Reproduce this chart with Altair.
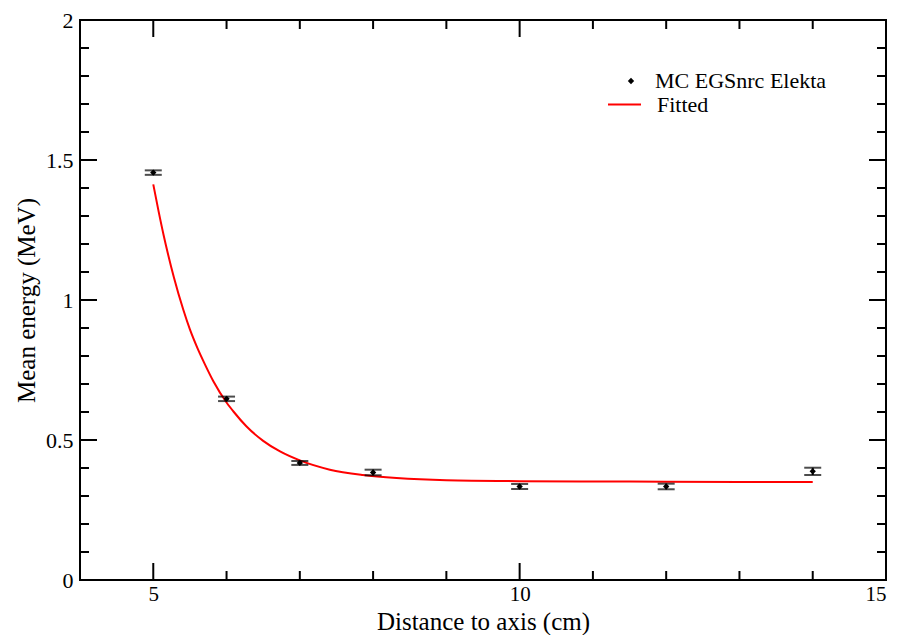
import altair as alt
import pandas as pd

# Monte Carlo data points
mc_x = [5, 6, 7, 8, 10, 12, 14]
mc_y = [1.455, 0.647, 0.418, 0.384, 0.334, 0.334, 0.388]
mc_err = [0.008, 0.008, 0.007, 0.010, 0.009, 0.010, 0.013]

# Fitted curve
fit_x = [5.0, 5.07, 5.14, 5.2, 5.28, 5.41, 5.5, 5.6, 5.7, 5.82, 6.0, 6.1, 6.27, 6.5, 6.73,
         7.0, 7.41, 7.86, 8.32, 9.0, 10.0, 11.0, 12.0, 13.0, 14.0]
fit_y = [1.413, 1.32, 1.233, 1.165, 1.082, 0.965, 0.895, 0.830, 0.773, 0.710, 0.634, 0.600,
         0.549, 0.497, 0.459, 0.427, 0.394, 0.375, 0.364, 0.356, 0.353, 0.352, 0.351, 0.350, 0.350]

# Ticks
x_major = [5, 10]
x_minor = [6, 7, 8, 9, 11, 12, 13, 14]
y_major = [0.5, 1.0, 1.5]
y_minor = [0.1, 0.2, 0.3, 0.4, 0.6, 0.7, 0.8, 0.9, 1.1, 1.2, 1.3, 1.4, 1.6, 1.7, 1.8, 1.9]

W, H = 806, 560
FONT = "Liberation Serif"

mc = pd.DataFrame({"x": mc_x, "y": mc_y,
                   "lo": [v - e for v, e in zip(mc_y, mc_err)],
                   "hi": [v + e for v, e in zip(mc_y, mc_err)],
                   "series": ["MC EGSnrc Elekta"] * len(mc_x)})
fit = pd.DataFrame({"x": fit_x, "y": fit_y, "series": ["Fitted"] * len(fit_x)})

xs = alt.Scale(domain=[4, 15], nice=False, zero=False)
ys = alt.Scale(domain=[0, 2], nice=False)

xaxis = alt.Axis(values=[5, 10, 15], format="~g", ticks=False, domain=False, grid=False,
                 labelFont=FONT, labelFontSize=21, labelColor="black", labelPadding=3,
                 title="Distance to axis (cm)", titleFont=FONT, titleFontSize=25,
                 titleFontWeight="normal", titleColor="black",
                 titleY=49, titleBaseline="alphabetic")
yaxis = alt.Axis(values=[0, 0.5, 1, 1.5, 2], format="~g", ticks=False, domain=False, grid=False,
                 labelFont=FONT, labelFontSize=22, labelColor="black", labelPadding=7,
                 title="Mean energy (MeV)", titleFont=FONT, titleFontSize=25,
                 titleFontWeight="normal", titleColor="black", titlePadding=6)

line = alt.Chart(fit).mark_line(strokeWidth=2, interpolate="monotone").encode(
    x=alt.X("x:Q", scale=xs, axis=xaxis),
    y=alt.Y("y:Q", scale=ys, axis=yaxis),
    color=alt.Color("series:N", scale=alt.Scale(domain=["Fitted"], range=["#ff0000"]),
                    legend=alt.Legend(title=None, orient="none", legendX=527, legendY=67,
                                      symbolType="stroke", symbolSize=1089, symbolStrokeWidth=2,
                                      labelFont=FONT, labelFontSize=22, labelColor="black",
                                      labelOffset=15, labelLimit=0, padding=0)),
)

errbar = alt.Chart(mc).mark_rule(color="black", strokeWidth=2).encode(
    x=alt.X("x:Q", scale=xs), y=alt.Y("lo:Q", scale=ys), y2="hi:Q")
cap_lo = alt.Chart(mc).mark_tick(color="black", orient="horizontal", size=17, thickness=2).encode(
    x=alt.X("x:Q", scale=xs), y=alt.Y("lo:Q", scale=ys))
cap_hi = alt.Chart(mc).mark_tick(color="black", orient="horizontal", size=17, thickness=2).encode(
    x=alt.X("x:Q", scale=xs), y=alt.Y("hi:Q", scale=ys))

points = alt.Chart(mc).mark_point(filled=True, opacity=1, size=40).encode(
    x=alt.X("x:Q", scale=xs),
    y=alt.Y("y:Q", scale=ys),
    shape=alt.Shape("series:N", scale=alt.Scale(domain=["MC EGSnrc Elekta"], range=["diamond"]),
                    legend=alt.Legend(title=None, orient="none", legendX=540, legendY=50,
                                      symbolSize=40, symbolFillColor="black", symbolStrokeColor="black",
                                      labelFont=FONT, labelFontSize=22, labelColor="black",
                                      labelOffset=13, labelLimit=0, padding=0)),
    color=alt.value("black"),
)


def tick_layer(values, length, field):
    df = pd.DataFrame({"v": values})
    base = alt.Chart(df).mark_rule(color="black", strokeWidth=2)
    if field == "x":
        bottom = base.encode(x=alt.X("v:Q", scale=xs), y=alt.value(H), y2=alt.value(H - length))
        top = base.encode(x=alt.X("v:Q", scale=xs), y=alt.value(0), y2=alt.value(length))
        return [bottom, top]
    left = base.encode(y=alt.Y("v:Q", scale=ys), x=alt.value(0), x2=alt.value(length))
    right = base.encode(y=alt.Y("v:Q", scale=ys), x=alt.value(W), x2=alt.value(W - length))
    return [left, right]


ticks = (tick_layer(x_major, 17, "x") + tick_layer(x_minor, 9, "x")
         + tick_layer(y_major, 17, "y") + tick_layer(y_minor, 9, "y"))

chart = alt.layer(*ticks, line, errbar, cap_lo, cap_hi, points).resolve_scale(
    color="independent", shape="independent"
).properties(
    width=W, height=H,
    autosize=alt.AutoSizeParams(type="none"),
    padding={"left": 72, "top": 12, "right": 4, "bottom": 56},
    background="white",
).configure_view(stroke="black", strokeWidth=2)

chart.save("out.html", embed_options={"renderer": "svg", "actions": False})
